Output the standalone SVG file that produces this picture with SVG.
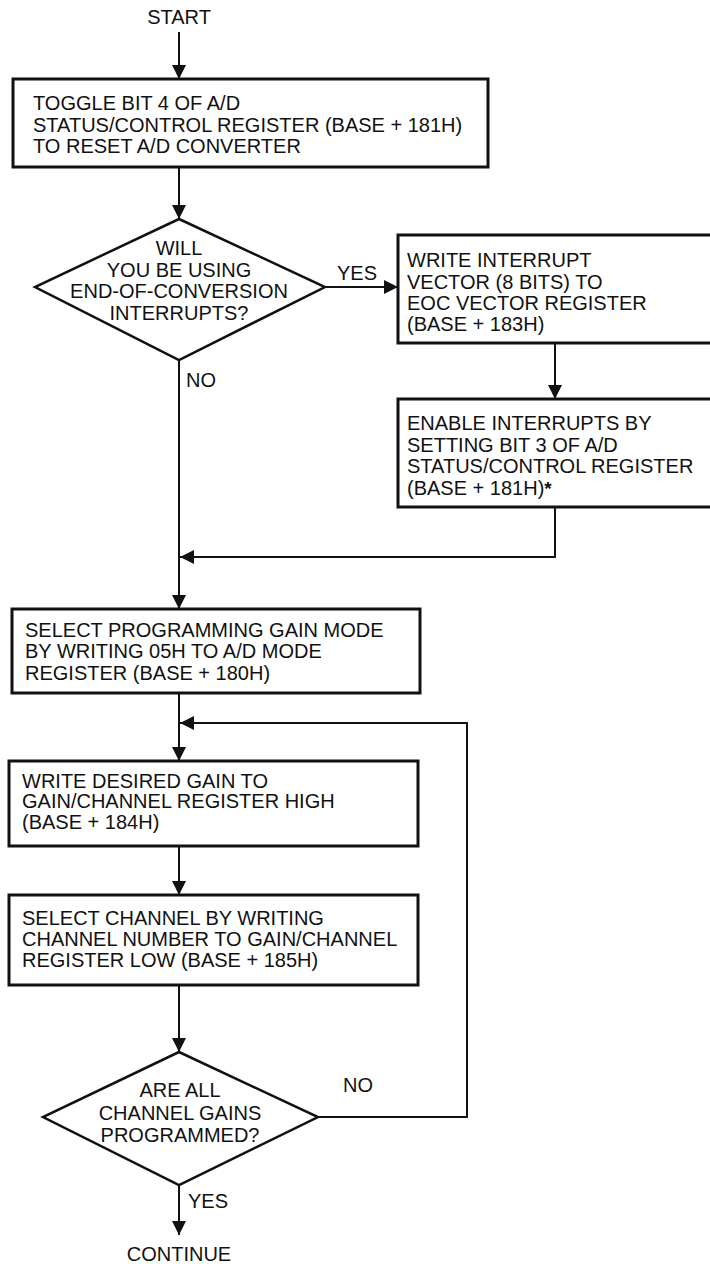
<svg xmlns="http://www.w3.org/2000/svg" width="710" height="1264" viewBox="0 0 710 1264">
<defs>
<style>
text{font-family:"Liberation Sans",Arial,Helvetica,sans-serif;font-size:20px;fill:#111}
.c{text-anchor:middle}
.box{fill:#fff;stroke:#111;stroke-width:3}
.dia{fill:#fff;stroke:#111;stroke-width:2.5}
.con{fill:none;stroke:#111;stroke-width:2}
.arr{marker-end:url(#ah)}
</style>
<marker id="ah" markerUnits="userSpaceOnUse" markerWidth="16" markerHeight="16" refX="14" refY="7" orient="auto">
<path d="M0,0 L14,7 L0,14 z" fill="#111"/>
</marker>
</defs>
<rect width="710" height="1264" fill="#fff"/>
<g id="connectors">
<path class="con arr" d="M179,32 V79"/>
<path class="con arr" d="M179,167 V219"/>
<path class="con arr" d="M325,287 H398"/>
<path class="con arr" d="M555,343 V399"/>
<path class="con arr" d="M555,507 V557 H180"/>
<path class="con arr" d="M179,360 V609"/>
<path class="con arr" d="M179,693 V761"/>
<path class="con arr" d="M179,846 V895"/>
<path class="con arr" d="M179,985 V1052"/>
<path class="con arr" d="M318,1117 H467 V723 H180"/>
<path class="con arr" d="M179,1185 V1235"/>
</g>
<g id="start"><text class="c" x="179" y="24">START</text></g>
<g id="toggle">
<rect class="box" x="13" y="79" width="475" height="88"/>
<text x="33" y="110">TOGGLE BIT 4 OF A/D</text>
<text x="33" y="132">STATUS/CONTROL REGISTER (BASE + 181H)</text>
<text x="33" y="153">TO RESET A/D CONVERTER</text>
</g>
<g id="decision-interrupts">
<polygon class="dia" points="179,219 325,287 179,360 35,287"/>
<text class="c" x="179" y="255">WILL</text>
<text class="c" x="179" y="277">YOU BE USING</text>
<text class="c" x="179" y="298">END-OF-CONVERSION</text>
<text class="c" x="179" y="320">INTERRUPTS?</text>
</g>
<g id="label-yes1"><text x="337" y="280">YES</text></g>
<g id="label-no1"><text x="186" y="387">NO</text></g>
<g id="write-vector">
<rect class="box" x="398" y="235" width="316" height="108"/>
<text x="407" y="267">WRITE INTERRUPT</text>
<text x="407" y="289">VECTOR (8 BITS) TO</text>
<text x="407" y="310">EOC VECTOR REGISTER</text>
<text x="407" y="331">(BASE + 183H)</text>
</g>
<g id="enable-interrupts">
<rect class="box" x="398" y="399" width="316" height="108"/>
<text x="407" y="430">ENABLE INTERRUPTS BY</text>
<text x="407" y="452">SETTING BIT 3 OF A/D</text>
<text x="407" y="473">STATUS/CONTROL REGISTER</text>
<text x="407" y="495">(BASE + 181H)<tspan font-weight="bold" font-size="19">*</tspan></text>
</g>
<g id="select-mode">
<rect class="box" x="12" y="609" width="408" height="84"/>
<text x="25" y="637">SELECT PROGRAMMING GAIN MODE</text>
<text x="25" y="658">BY WRITING 05H TO A/D MODE</text>
<text x="25" y="680">REGISTER (BASE + 180H)</text>
</g>
<g id="write-gain">
<rect class="box" x="9" y="761" width="409" height="85"/>
<text x="22" y="788">WRITE DESIRED GAIN TO</text>
<text x="22" y="808">GAIN/CHANNEL REGISTER HIGH</text>
<text x="22" y="829">(BASE + 184H)</text>
</g>
<g id="select-channel">
<rect class="box" x="9" y="895" width="409" height="90"/>
<text x="22" y="925">SELECT CHANNEL BY WRITING</text>
<text x="22" y="946">CHANNEL NUMBER TO GAIN/CHANNEL</text>
<text x="22" y="967">REGISTER LOW (BASE + 185H)</text>
</g>
<g id="decision-gains">
<polygon class="dia" points="179,1052 318,1117 179,1185 43,1117"/>
<text class="c" x="180" y="1097">ARE ALL</text>
<text class="c" x="180" y="1120">CHANNEL GAINS</text>
<text class="c" x="180" y="1142">PROGRAMMED?</text>
</g>
<g id="label-no2"><text x="343" y="1092">NO</text></g>
<g id="label-yes2"><text x="188" y="1208">YES</text></g>
<g id="continue"><text class="c" x="179" y="1261">CONTINUE</text></g>
</svg>
